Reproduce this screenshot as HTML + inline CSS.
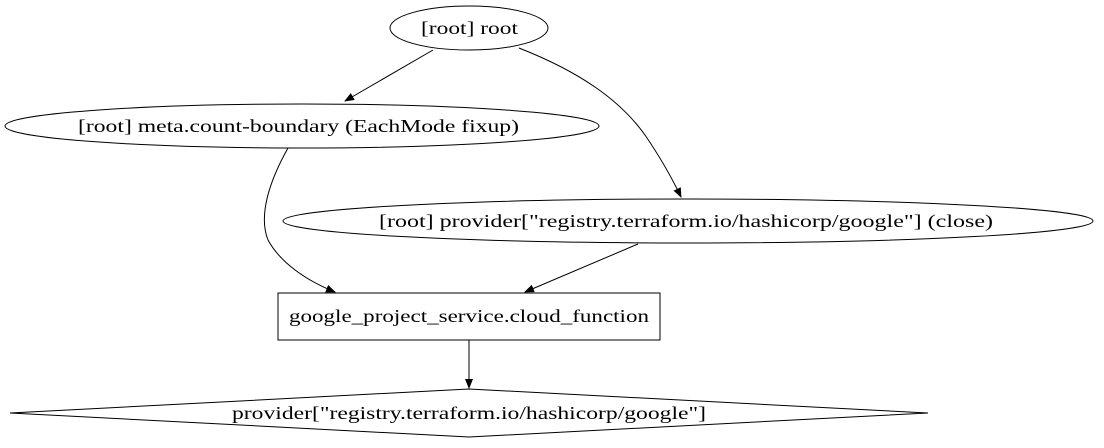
<!DOCTYPE html>
<html><head><style>body{margin:0;background:#fff}</style></head><body>
<svg width="1104" height="443" viewBox="0 0 1104 443" xmlns="http://www.w3.org/2000/svg" font-family="Liberation Serif, serif" font-size="18">
<defs><marker id="a" markerWidth="10" markerHeight="8" refX="9" refY="4" orient="auto" markerUnits="userSpaceOnUse"><path d="M0,0 L10,4 L0,8 z" fill="#000"/></marker></defs>
<g fill="none" stroke="#000" stroke-width="1">
<ellipse cx="469" cy="28" rx="79" ry="22"/>
<ellipse cx="302" cy="126" rx="297" ry="22"/>
<ellipse cx="688" cy="221" rx="405" ry="22"/>
<rect x="278" y="293" width="382" height="47"/>
<polygon points="469,389 928,413 469,437 10,413"/>
<path d="M433,50 L345,101" marker-end="url(#a)"/>
<path d="M519,48 C580,72 620,100 645,135 C660,157 672,178 681,197" marker-end="url(#a)"/>
<path d="M288,148 C270,180 258,215 268,240 C280,262 305,280 335,292" marker-end="url(#a)"/>
<path d="M638,244 L525,292" marker-end="url(#a)"/>
<path d="M469,340 L469,388" marker-end="url(#a)"/>
</g>
<g fill="#000" lengthAdjust="spacingAndGlyphs">
<text x="421" y="34" textLength="97" lengthAdjust="spacingAndGlyphs">[root] root</text>
<text x="78" y="132" textLength="441" lengthAdjust="spacingAndGlyphs">[root] meta.count-boundary (EachMode fixup)</text>
<text x="379" y="227" textLength="614" lengthAdjust="spacingAndGlyphs">[root] provider["registry.terraform.io/hashicorp/google"] (close)</text>
<text x="289" y="322" textLength="360" lengthAdjust="spacingAndGlyphs">google_project_service.cloud_function</text>
<text x="232" y="419" textLength="474" lengthAdjust="spacingAndGlyphs">provider["registry.terraform.io/hashicorp/google"]</text>
</g>
</svg>
</body></html>
